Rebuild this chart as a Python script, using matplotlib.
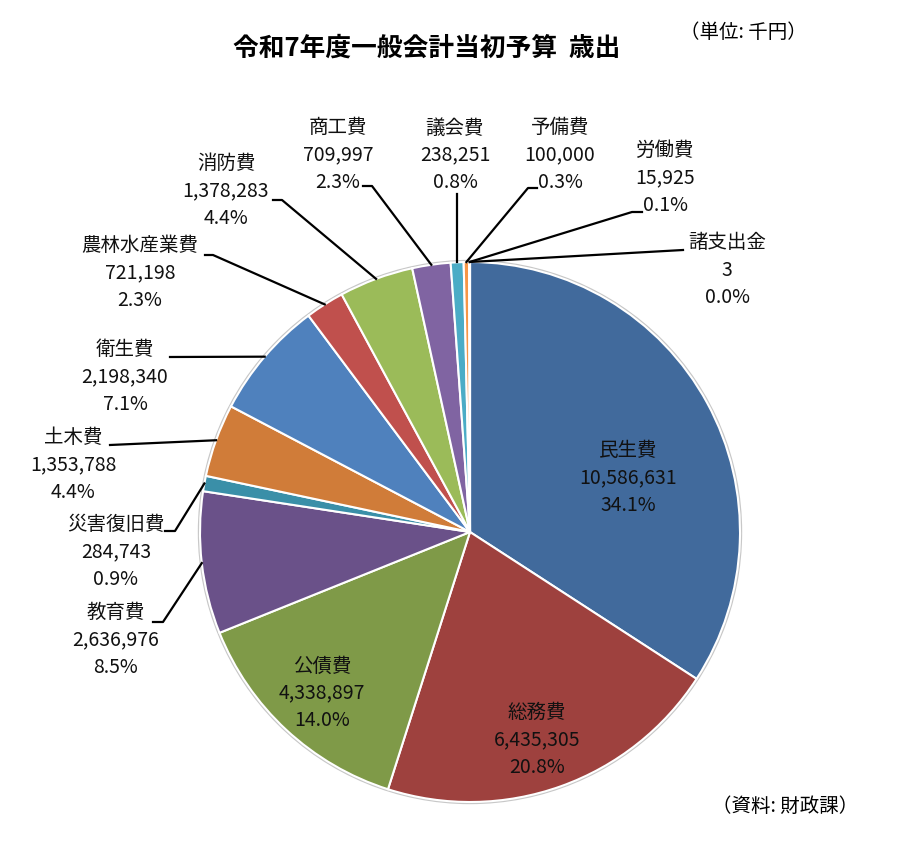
import numpy as np
import matplotlib
matplotlib.use("Agg")
import matplotlib.pyplot as plt

plt.rcParams['font.family'] = ['Noto Sans CJK JP', 'DejaVu Sans']

# data (千円)
categories = ['民生費', '総務費', '公債費', '教育費', '災害復旧費', '土木費', '衛生費',
              '農林水産業費', '消防費', '商工費', '議会費', '予備費', '労働費', '諸支出金']
amounts = [10586631, 6435305, 4338897, 2636976, 284743, 1353788, 2198340,
           721198, 1378283, 709997, 238251, 100000, 15925, 3]
percents = ['34.1%', '20.8%', '14.0%', '8.5%', '0.9%', '4.4%', '7.1%',
            '2.3%', '4.4%', '2.3%', '0.8%', '0.3%', '0.1%', '0.0%']
colors = ['#416A9C', '#9E413E', '#7F9A48', '#6A5189', '#3A8FA8', '#D07C39', '#4F81BD',
          '#C0504D', '#9BBB59', '#8064A2', '#4BACC6', '#F79646', '#2C4D75', '#772C2A']

W, H = 900, 851
fig = plt.figure(figsize=(W / 100, H / 100), dpi=100)
ax = fig.add_axes([0, 0, 1, 1])

def py(y):
    return H - y

cx, cy, R = 470, 532, 270

# soft outline behind pie
ax.add_patch(plt.Circle((cx, py(cy)), R + 1.5, color='#C8C8C8', zorder=0))

wedges, _ = ax.pie(amounts, colors=colors, startangle=90, counterclock=False,
                   center=(cx, py(cy)), radius=R,
                   wedgeprops=dict(edgecolor='white', linewidth=1.5), frame=True)
ax.set_xlim(0, W)
ax.set_ylim(0, H)
ax.set_aspect('equal')
ax.axis('off')

fs = 14

def label_text(i):
    return '%s\n%s\n%s' % (categories[i], format(amounts[i], ','), percents[i])

# inside labels (text centre)
inside = {0: (628, 478), 1: (537, 740), 2: (322, 693)}
for i, (x, y) in inside.items():
    ax.text(x, py(y), label_text(i), ha='center', va='center', fontsize=fs,
            linespacing=1.38, color='#111111')

# outside labels: text centre, leader points (from label side)
outside = {
    3: ((116, 640), [(153, 622), (163, 622)]),
    4: ((116, 552), [(165, 531), (175, 531)]),
    5: ((73, 465), [(110, 445)]),
    6: ((125, 377), [(170, 357)]),
    7: ((140, 273), [(205, 255), (213, 255)]),
    8: ((226, 191), [(273, 200), (282, 200)]),
    9: ((338, 155), [(363, 186), (372, 186)]),
    10: ((455, 155), [(457, 194)]),
    11: ((560, 155), [(537, 188), (528, 188)]),
    12: ((665, 178), [(642, 212), (632, 212)]),
    13: ((727, 270), [(683, 250)]),
}
for i, ((x, y), pts) in outside.items():
    ax.text(x, py(y), label_text(i), ha='center', va='center', fontsize=fs,
            linespacing=1.38, color='#111111')
    w = wedges[i]
    th = np.deg2rad((w.theta1 + w.theta2) / 2)
    ex, ey = cx + R * np.cos(th), cy - R * np.sin(th)
    xs = [p[0] for p in pts] + [ex]
    ys = [py(p[1]) for p in pts] + [py(ey)]
    if i == 10:
        xs[-1] = xs[0]
    ax.plot(xs, ys, color='black', linewidth=1.6, zorder=5)

ax.text(427, py(48), '令和7年度一般会計当初予算  歳出', ha='center', va='center',
        fontsize=18.5, fontweight='bold')
ax.text(743, py(33), '（単位: 千円）', ha='center', va='center', fontsize=14)
ax.text(785, py(806), '（資料: 財政課）', ha='center', va='center', fontsize=14)

fig.savefig('out.png', dpi=100, facecolor='white')
